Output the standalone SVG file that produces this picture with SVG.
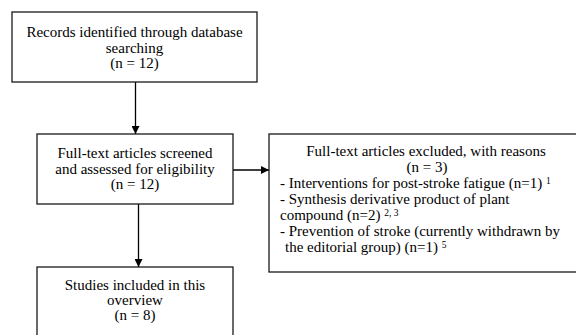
<svg xmlns="http://www.w3.org/2000/svg" width="576" height="335" viewBox="0 0 576 335">
<defs>
<marker id="ah" viewBox="0 0 10 10" refX="10" refY="5" markerWidth="8" markerHeight="8" markerUnits="userSpaceOnUse" orient="auto">
<path d="M0,0 L10,5 L0,10 Z" fill="#000"/>
</marker>
</defs>
<style>
.box{fill:#fff;stroke:#1a1a1a;stroke-width:1.3}
.c{text-anchor:middle}
.conn{stroke:#000;stroke-width:1.3;fill:none;marker-end:url(#ah)}
</style>
<g id="connectors">
<line class="conn" x1="135.5" y1="82" x2="135.5" y2="134"/>
<line class="conn" x1="138.5" y1="204" x2="138.5" y2="267"/>
<line class="conn" x1="233" y1="170" x2="269" y2="170"/>
</g>
<g font-family="Liberation Serif, Times New Roman, serif" font-size="15" fill="#000">
<g id="records">
<rect class="box" x="12" y="12" width="245" height="70"/>
<text class="c" x="134.5" y="37">Records identified through database</text>
<text class="c" x="134.5" y="52.5">searching</text>
<text class="c" x="134.5" y="68">(n = 12)</text>
</g>
<g id="screened">
<rect class="box" x="37" y="134" width="196" height="70"/>
<text class="c" x="135" y="158">Full-text articles screened</text>
<text class="c" x="135" y="174">and assessed for eligibility</text>
<text class="c" x="135" y="189">(n = 12)</text>
</g>
<g id="excluded">
<rect class="box" x="269" y="134" width="320" height="138"/>
<text class="c" x="426" y="156">Full-text articles excluded, with reasons</text>
<text class="c" x="427" y="172">(n = 3)</text>
<text x="280" y="188">- Interventions for post-stroke fatigue (n=1) <tspan font-size="9.5" dy="-4.5">1</tspan></text>
<text x="280" y="204">- Synthesis derivative product of plant</text>
<text x="280" y="220">compound (n=2) <tspan font-size="9.5" dy="-4.5">2, 3</tspan></text>
<text x="280" y="236">- Prevention of stroke (currently withdrawn by</text>
<text x="285" y="252">the editorial group) (n=1) <tspan font-size="9.5" dy="-4.5">5</tspan></text>
</g>
<g id="included">
<rect class="box" x="37" y="267" width="196" height="80"/>
<text class="c" x="135" y="290">Studies included in this</text>
<text class="c" x="135" y="305">overview</text>
<text class="c" x="135" y="320">(n = 8)</text>
</g>
</g>
</svg>
